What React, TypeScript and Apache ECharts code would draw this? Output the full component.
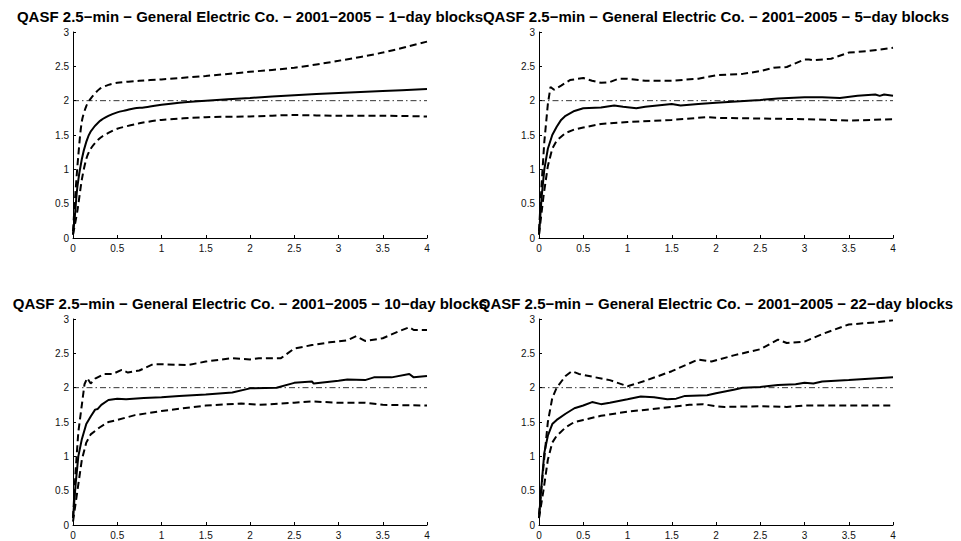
import React, { useEffect, useRef } from "react";
import * as echarts from "echarts";

type P = [number, number][];

const titles = [
  "QASF 2.5\u2212min \u2212 General Electric Co. \u2212 2001\u22122005 \u2212 1\u2212day blocks",
  "QASF 2.5\u2212min \u2212 General Electric Co. \u2212 2001\u22122005 \u2212 5\u2212day blocks",
  "QASF 2.5\u2212min \u2212 General Electric Co. \u2212 2001\u22122005 \u2212 10\u2212day blocks",
  "QASF 2.5\u2212min \u2212 General Electric Co. \u2212 2001\u22122005 \u2212 22\u2212day blocks",
];

const refLevel = 2;

// Panel 1: 1-day blocks
const p1Mid: P = [[0,0.05],[0.02,0.3],[0.05,0.75],[0.1,1.15],[0.15,1.4],[0.2,1.55],[0.3,1.7],[0.4,1.78],[0.5,1.83],[0.6,1.86],[0.7,1.89],[0.8,1.9],[1.0,1.94],[1.2,1.97],[1.5,2.0],[2.0,2.04],[2.5,2.08],[3.0,2.11],[3.5,2.14],[4.0,2.17]];
const p1Up: P = [[0,0.1],[0.03,0.7],[0.06,1.2],[0.1,1.7],[0.15,1.92],[0.2,2.03],[0.3,2.17],[0.4,2.23],[0.5,2.26],[0.75,2.29],[1.0,2.31],[1.5,2.36],[2.0,2.42],[2.5,2.48],[3.0,2.58],[3.5,2.7],[4.0,2.86]];
const p1Lo: P = [[0,0.05],[0.05,0.4],[0.1,0.85],[0.15,1.15],[0.2,1.3],[0.3,1.45],[0.4,1.53],[0.5,1.59],[0.75,1.67],[1.0,1.72],[1.5,1.76],[2.0,1.77],[2.5,1.79],[3.0,1.78],[3.5,1.78],[4.0,1.77]];

// Panel 2: 5-day blocks
const p2Mid: P = [[0,0.05],[0.03,0.6],[0.06,1.0],[0.1,1.3],[0.15,1.5],[0.2,1.62],[0.25,1.72],[0.3,1.78],[0.4,1.85],[0.5,1.89],[0.7,1.9],[0.85,1.93],[0.95,1.91],[1.1,1.89],[1.2,1.91],[1.5,1.95],[1.6,1.93],[1.8,1.95],[2.0,1.97],[2.5,2.01],[2.7,2.03],[3.0,2.05],[3.2,2.05],[3.4,2.04],[3.6,2.07],[3.8,2.09],[3.85,2.07],[3.9,2.09],[4.0,2.07]];
const p2Up: P = [[0,0.1],[0.03,0.8],[0.06,1.4],[0.1,1.95],[0.13,2.2],[0.17,2.16],[0.25,2.22],[0.35,2.3],[0.5,2.33],[0.6,2.29],[0.7,2.26],[0.8,2.27],[0.9,2.32],[1.0,2.32],[1.2,2.29],[1.5,2.29],[1.8,2.32],[2.0,2.37],[2.3,2.39],[2.5,2.43],[2.65,2.48],[2.8,2.49],[3.0,2.6],[3.05,2.6],[3.1,2.59],[3.3,2.61],[3.5,2.7],[3.7,2.72],[4.0,2.77]];
const p2Lo: P = [[0,0.05],[0.05,0.6],[0.1,1.05],[0.15,1.3],[0.2,1.42],[0.3,1.53],[0.4,1.58],[0.5,1.61],[0.7,1.66],[1.0,1.69],[1.5,1.72],[1.9,1.76],[2.0,1.75],[2.5,1.74],[3.0,1.73],[3.3,1.72],[3.5,1.71],[4.0,1.73]];

// Panel 3: 10-day blocks
const p3Mid: P = [[0,0.1],[0.03,0.6],[0.06,1.0],[0.1,1.25],[0.15,1.47],[0.2,1.58],[0.25,1.68],[0.28,1.69],[0.32,1.75],[0.4,1.82],[0.5,1.84],[0.6,1.83],[0.8,1.85],[1.0,1.86],[1.2,1.88],[1.5,1.9],[1.8,1.93],[2.0,1.99],[2.3,2.0],[2.5,2.07],[2.7,2.09],[2.72,2.06],[3.0,2.1],[3.1,2.12],[3.3,2.11],[3.4,2.15],[3.6,2.15],[3.8,2.2],[3.85,2.15],[4.0,2.17]];
const p3Up: P = [[0,0.1],[0.03,0.8],[0.06,1.35],[0.1,1.75],[0.13,2.05],[0.16,2.14],[0.2,2.06],[0.25,2.13],[0.35,2.2],[0.45,2.2],[0.55,2.26],[0.62,2.22],[0.75,2.25],[0.9,2.34],[1.0,2.34],[1.3,2.33],[1.5,2.38],[1.8,2.43],[2.0,2.41],[2.1,2.43],[2.35,2.43],[2.5,2.57],[2.7,2.62],[2.9,2.66],[3.1,2.69],[3.2,2.75],[3.3,2.68],[3.5,2.72],[3.7,2.83],[3.8,2.88],[3.85,2.84],[4.0,2.84]];
const p3Lo: P = [[0,0.05],[0.05,0.5],[0.1,0.95],[0.15,1.2],[0.2,1.32],[0.3,1.42],[0.4,1.5],[0.5,1.53],[0.7,1.6],[1.0,1.66],[1.5,1.74],[1.9,1.77],[2.1,1.75],[2.5,1.78],[2.7,1.8],[3.0,1.78],[3.3,1.78],[3.5,1.75],[4.0,1.74]];

// Panel 4: 22-day blocks
const p4Mid: P = [[0,0.1],[0.03,0.6],[0.06,1.05],[0.1,1.3],[0.15,1.47],[0.2,1.53],[0.3,1.62],[0.4,1.7],[0.5,1.74],[0.6,1.79],[0.7,1.76],[0.8,1.78],[1.0,1.83],[1.15,1.87],[1.3,1.86],[1.45,1.83],[1.55,1.84],[1.65,1.88],[1.9,1.89],[2.0,1.92],[2.2,1.97],[2.3,2.0],[2.5,2.01],[2.7,2.04],[2.9,2.05],[3.0,2.07],[3.1,2.06],[3.2,2.09],[3.5,2.11],[4.0,2.15]];
const p4Up: P = [[0,0.15],[0.05,0.85],[0.1,1.5],[0.15,1.85],[0.2,2.0],[0.3,2.17],[0.37,2.24],[0.45,2.2],[0.6,2.16],[0.8,2.11],[1.0,2.02],[1.2,2.1],[1.5,2.24],[1.8,2.41],[1.95,2.38],[2.2,2.47],[2.5,2.56],[2.7,2.7],[2.8,2.65],[3.0,2.67],[3.2,2.78],[3.5,2.92],[3.8,2.95],[4.0,2.98]];
const p4Lo: P = [[0,0.1],[0.05,0.5],[0.1,0.95],[0.15,1.2],[0.2,1.3],[0.3,1.42],[0.4,1.5],[0.5,1.53],[0.7,1.59],[1.0,1.65],[1.5,1.72],[1.7,1.75],[1.85,1.76],[2.0,1.73],[2.1,1.72],[2.5,1.73],[2.8,1.72],[3.0,1.74],[3.5,1.74],[4.0,1.74]];

const panels = [
  { mid: p1Mid, up: p1Up, lo: p1Lo, smooth: 0.3 },
  { mid: p2Mid, up: p2Up, lo: p2Lo, smooth: 0 },
  { mid: p3Mid, up: p3Up, lo: p3Lo, smooth: 0 },
  { mid: p4Mid, up: p4Up, lo: p4Lo, smooth: 0 },
];

const FONT = "'Liberation Sans', Arial, Helvetica, sans-serif";

export default function App() {
  const ref = useRef<HTMLDivElement>(null);
  useEffect(() => {
    if (!ref.current) return;
    const chart = echarts.init(ref.current, undefined, { renderer: "svg" });
    const gridPos = [
      { left: 73, top: 32 },
      { left: 539, top: 32 },
      { left: 73, top: 319 },
      { left: 539, top: 319 },
    ];
    const W = 354, H = 206;
    const grid = gridPos.map((g) => ({ left: g.left, top: g.top, width: W, height: H, containLabel: false }));
    const title = gridPos.map((g, i) => ({
      text: titles[i],
      left: g.left + W / 2,
      top: g.top - 23,
      textAlign: "center",
      textStyle: { fontFamily: FONT, fontWeight: "bold", fontSize: 15, color: "#000" },
      padding: 0,
    }));
    const axisCommon = {
      type: "value",
      axisLine: { show: true, onZero: false, lineStyle: { color: "#000", width: 1 } },
      axisTick: { show: true, inside: true, length: 3, lineStyle: { color: "#000" } },
      splitLine: { show: false },
      axisLabel: { fontFamily: FONT, fontSize: 10, color: "#111" },
    };
    const xAxis = gridPos.map((_, i) => ({
      ...axisCommon,
      gridIndex: i,
      min: 0,
      max: 4,
      interval: 0.5,
      axisLabel: { ...axisCommon.axisLabel, margin: 5 },
    }));
    const yAxis = gridPos.map((_, i) => ({
      ...axisCommon,
      gridIndex: i,
      min: 0,
      max: 3,
      interval: 0.5,
      axisLabel: { ...axisCommon.axisLabel, margin: 4 },
    }));
    const series: any[] = [];
    panels.forEach((p, i) => {
      series.push({
        type: "line",
        xAxisIndex: i,
        yAxisIndex: i,
        data: [[0, refLevel], [4, refLevel]],
        showSymbol: false,
        lineStyle: { color: "#000", width: 0.8, type: [6, 3, 1.5, 3] },
        z: 1,
      });
      series.push({
        type: "line",
        xAxisIndex: i,
        yAxisIndex: i,
        data: p.up,
        showSymbol: false,
        smooth: p.smooth,
        lineStyle: { color: "#000", width: 2, type: [7, 4] },
      });
      series.push({
        type: "line",
        xAxisIndex: i,
        yAxisIndex: i,
        data: p.lo,
        showSymbol: false,
        smooth: p.smooth,
        lineStyle: { color: "#000", width: 2, type: [7, 4] },
      });
      series.push({
        type: "line",
        xAxisIndex: i,
        yAxisIndex: i,
        data: p.mid,
        showSymbol: false,
        smooth: p.smooth,
        lineStyle: { color: "#000", width: 2 },
      });
    });
    chart.setOption({
      animation: false,
      backgroundColor: "#fff",
      title,
      grid,
      xAxis,
      yAxis,
      series,
    });
    return () => chart.dispose();
  }, []);
  return (
    <div
      ref={ref}
      style={{ position: "fixed", left: 0, top: 0, width: 961, height: 541 }}
    />
  );
}
